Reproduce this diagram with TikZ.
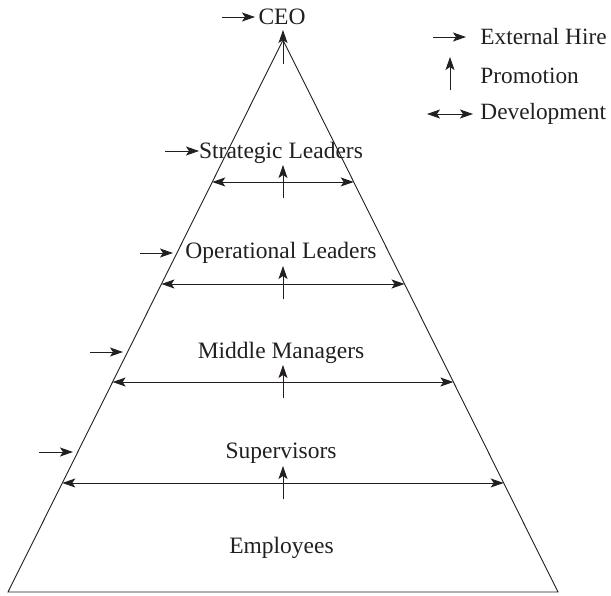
\documentclass[tikz,border=0pt]{standalone}
\usepackage{fontspec}
\setmainfont{Liberation Serif}
\usetikzlibrary{arrows.meta,calc}
\definecolor{ink}{HTML}{231F20}
\tikzset{myhead/.tip={Stealth[length=13pt,width=9pt,inset=3pt]}}
\begin{document}
\begin{tikzpicture}[x=1pt,y=-1pt,
  line width=0.9pt,
  pyr/.style={draw=ink,line width=0.9pt,line join=miter},
  hire/.style={draw=ink,-myhead},
  promo/.style={draw=ink,-myhead},
  devel/.style={draw=ink,myhead-myhead},
  lvl/.style={anchor=base,inner sep=0pt,text=ink,font=\fontsize{23.5}{28}\selectfont},
  leg/.style={anchor=base west,inner sep=0pt,text=ink,font=\fontsize{23.3}{28}\selectfont}]
\useasboundingbox (0,0) rectangle (611,595);
% pyramid
\coordinate (apex) at (283,40);
\coordinate (bl) at (8,592);
\coordinate (br) at (558,592);
\draw[pyr] (apex) -- (bl) -- (br) -- cycle;
% development arrows
\coordinate (dL1) at ($(apex)!0.2572!(bl)$);
\coordinate (dR1) at ($(apex)!0.2572!(br)$);
\coordinate (dL2) at ($(apex)!0.4420!(bl)$);
\coordinate (dR2) at ($(apex)!0.4420!(br)$);
\coordinate (dL3) at ($(apex)!0.6196!(bl)$);
\coordinate (dR3) at ($(apex)!0.6196!(br)$);
\coordinate (dL4) at ($(apex)!0.8025!(bl)$);
\coordinate (dR4) at ($(apex)!0.8025!(br)$);
\draw[devel] (dL1) -- (dR1);
\draw[devel] (dL2) -- (dR2);
\draw[devel] (dL3) -- (dR3);
\draw[devel] (dL4) -- (dR4);
% promotion arrows
\coordinate (p0s) at (283,64);  \coordinate (p0e) at (283,30);
\coordinate (p1s) at (283,198); \coordinate (p1e) at (283,165);
\coordinate (p2s) at (283,299); \coordinate (p2e) at (283,266);
\coordinate (p3s) at (283,398); \coordinate (p3e) at (283,365);
\coordinate (p4s) at (283,499); \coordinate (p4e) at (283,466);
\draw[promo] (p0s) -- (p0e);
\draw[promo] (p1s) -- (p1e);
\draw[promo] (p2s) -- (p2e);
\draw[promo] (p3s) -- (p3e);
\draw[promo] (p4s) -- (p4e);
% external hire arrows
\coordinate (h0s) at (222,17);  \coordinate (h0e) at (255,17);
\coordinate (h1s) at (165,151); \coordinate (h1e) at (199,151);
\coordinate (h2s) at (140,253); \coordinate (h2e) at (173,253);
\coordinate (h3s) at (90,352);  \coordinate (h3e) at (123,352);
\coordinate (h4s) at (39,452);  \coordinate (h4e) at (73,452);
\draw[hire] (h0s) -- (h0e);
\draw[hire] (h1s) -- (h1e);
\draw[hire] (h2s) -- (h2e);
\draw[hire] (h3s) -- (h3e);
\draw[hire] (h4s) -- (h4e);
% level labels
\node[lvl] (ceo) at (282,24) {CEO};
\node[lvl] (strat) at (281,158) {Strategic Leaders};
\node[lvl] (oper) at (281,258) {Operational Leaders};
\node[lvl] (mid) at (281,358) {Middle Managers};
\node[lvl] (sup) at (281,458) {Supervisors};
\node[lvl] (emp) at (281.5,553) {Employees};
% legend
\coordinate (lh1) at (433,37); \coordinate (lh2) at (466,37);
\draw[hire] (lh1) -- (lh2);
\node[leg] (lgh) at (480,44) {External Hire};
\coordinate (lp1) at (450,90); \coordinate (lp2) at (450,57);
\draw[promo] (lp1) -- (lp2);
\node[leg] (lgp) at (480,83) {Promotion};
\coordinate (ld1) at (427,114); \coordinate (ld2) at (473,114);
\draw[devel] (ld1) -- (ld2);
\node[leg] (lgd) at (480,119) {Development};
\end{tikzpicture}
\end{document}
